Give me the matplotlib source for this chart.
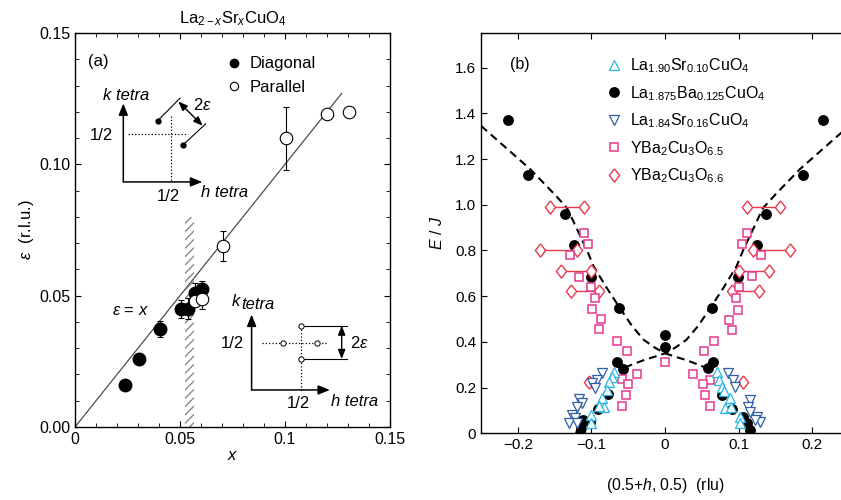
import matplotlib
matplotlib.use('Agg')
import matplotlib.pyplot as plt
from matplotlib.patches import Rectangle
from matplotlib.lines import Line2D

plt.rcParams['font.family'] = ['Liberation Sans', 'DejaVu Sans']
plt.rcParams['mathtext.fontset'] = 'custom'
plt.rcParams['mathtext.rm'] = 'Liberation Sans'
plt.rcParams['mathtext.it'] = 'Liberation Sans:italic'
plt.rcParams['hatch.linewidth'] = 0.9

# ---- panel (a): incommensurability vs doping ----
diag_x = [0.024, 0.0305, 0.0405, 0.0505, 0.054, 0.057, 0.0605]
diag_y = [0.016, 0.0257, 0.0373, 0.045, 0.045, 0.051, 0.0527]
diag_err = [0, 0, 0.003, 0.0035, 0.004, 0.004, 0.003]

par_x = [0.057, 0.0605, 0.0705, 0.1005, 0.12, 0.1305]
par_y = [0.048, 0.0488, 0.069, 0.11, 0.1192, 0.12]
par_err = [0, 0.004, 0.0058, 0.012, 0, 0]

line_x = [0, 0.127]

# ---- panel (b): dispersion ----
lbco_x = [-0.213, -0.186, -0.136, -0.124, -0.100, -0.062, -0.0655, -0.0574, -0.0775,
          -0.0915, -0.1017, -0.111, -0.114, -0.115, 0, 0,
          0.0647, 0.0588, 0.0768, 0.0904, 0.1062, 0.1116, 0.1153,
          0.0633, 0.0994, 0.1252, 0.137, 0.187, 0.2147]
lbco_y = [1.37, 1.129, 0.959, 0.826, 0.684, 0.549, 0.31, 0.283, 0.171,
          0.105, 0.05, 0.058, 0.025, 0.003, 0.431, 0.376,
          0.31, 0.285, 0.168, 0.105, 0.07, 0.044, 0.015,
          0.549, 0.684, 0.826, 0.96, 1.129, 1.37]

lsco10_x = [-0.069, -0.072, -0.076, -0.079, -0.086, -0.083, -0.090, -0.101, -0.101,
            0.070, 0.0737, 0.0768, 0.080, 0.088, 0.081, 0.090, 0.1017, 0.1017]
lsco10_y = [0.27, 0.245, 0.226, 0.19, 0.155, 0.117, 0.12, 0.08, 0.044,
            0.27, 0.234, 0.204, 0.185, 0.153, 0.11, 0.117, 0.073, 0.044]

lsco16_x = [-0.086, -0.0926, -0.0994, -0.0949, -0.1175, -0.113, -0.120, -0.1265, -0.123,
            -0.131, -0.120, 0.0859, 0.0926, 0.095, 0.1153, 0.113, 0.1243, 0.1288,
            0.122, 0.1153]
lsco16_y = [0.263, 0.234, 0.219, 0.197, 0.151, 0.131, 0.117, 0.078, 0.066,
            0.047, 0.044, 0.263, 0.234, 0.204, 0.146, 0.117, 0.073, 0.051,
            0.058, 0.095]

ybco65_x = [-0.1108, -0.1049, -0.1298, -0.1171, -0.1012, -0.0954, -0.0987, -0.0864,
            -0.0891, -0.0655, -0.052, -0.0384, -0.0587, -0.0498, -0.0529, -0.0587,
            0.0, 0.0664, 0.0529, 0.0384, 0.061, 0.0511, 0.0542, 0.061, 0.0904,
            0.0872, 0.0994, 0.0963, 0.1008, 0.1175, 0.1302, 0.1048, 0.1116]
ybco65_y = [0.877, 0.829, 0.781, 0.685, 0.638, 0.593, 0.542, 0.498,
            0.455, 0.405, 0.358, 0.26, 0.236, 0.216, 0.168, 0.121,
            0.314, 0.405, 0.358, 0.26, 0.234, 0.216, 0.168, 0.121, 0.45,
            0.497, 0.54, 0.592, 0.64, 0.687, 0.782, 0.829, 0.877]

# YBCO 6.6: pairs joined by a bar, both branches
ybco66_y = [0.992, 0.803, 0.709, 0.623, 0.992, 0.803, 0.709, 0.623]
ybco66_lo = [-0.156, -0.1695, -0.1414, -0.1275, 0.1108, 0.1198, 0.1003, 0.0904]
ybco66_hi = [-0.1108, -0.1197, -0.1003, -0.0893, 0.156, 0.1704, 0.1415, 0.1275]
ybco66_single_x = [-0.104, 0.1053]
ybco66_single_y = [0.226, 0.226]

# dashed guide curve, lower-right branch; the other is its mirror
curve_x = [-0.25, -0.22, -0.183, -0.15, -0.133, -0.106, -0.097, -0.08, -0.062,
           -0.045, -0.029, -0.014, 0, 0.015, 0.029, 0.043, 0.057]
curve_y = [1.345, 1.26, 1.155, 1.045, 0.985, 0.80, 0.73, 0.64, 0.551,
           0.47, 0.409, 0.375, 0.35, 0.334, 0.32, 0.303, 0.285]

c_up = '#29b5e8'
c_down = '#2f5ea8'
c_sq = '#e4388f'
c_dia = '#e8384c'
dia = [(0, 1), (0.78, 0), (0, -1), (-0.78, 0), (0, 1)]

fig = plt.figure(figsize=(8.41, 5.0), dpi=100)
ax1 = fig.add_axes([0.0892, 0.146, 0.3745, 0.788])
ax2 = fig.add_axes([0.572, 0.1334, 0.4376, 0.8])

# ---------------- (a) ----------------
ax1.plot(line_x, line_x, color='0.3', lw=0.9, zorder=1)
ax1.add_patch(Rectangle((0.0525, 0), 0.004, 0.08, fill=False, hatch='////',
                        edgecolor='0.5', lw=0, zorder=1))
ax1.errorbar(diag_x, diag_y, yerr=diag_err, fmt='o', color='black', ms=9,
             capsize=2.5, elinewidth=0.8, capthick=0.8, zorder=3)
ax1.errorbar(par_x, par_y, yerr=par_err, fmt='o', mfc='white', mec='black',
             ecolor='black', ms=9, mew=0.8, capsize=2.5, elinewidth=0.8,
             capthick=0.8, zorder=3)

ax1.set_xlim(0, 0.15)
ax1.set_ylim(0, 0.15)
ax1.set_xticks([0, 0.05, 0.1, 0.15])
ax1.set_xticklabels(['0', '0.05', '0.1', '0.15'])
ax1.set_yticks([0, 0.05, 0.10, 0.15])
ax1.set_yticklabels(['0.00', '0.05', '0.10', '0.15'])
ax1.set_xticks([i * 0.01 for i in range(16)], minor=True)
ax1.set_yticks([i * 0.01 for i in range(16)], minor=True)
ax1.tick_params(which='both', direction='in', top=True, right=True, labelsize=11.5)
ax1.tick_params(which='major', length=4)
ax1.tick_params(which='minor', length=3)
ax1.set_xlabel('$x$', fontsize=12, labelpad=1)
ax1.set_ylabel(r'$\varepsilon$  (r.l.u.)', fontsize=12, labelpad=2)
ax1.set_title(r'La$_{2-x}$Sr$_x$CuO$_4$', fontsize=12, pad=7)

ax1.text(0.0062, 0.139, '(a)', fontsize=12, va='center')
ax1.text(0.0262, 0.0443, r'$\varepsilon$ = $x$', fontsize=12, ha='center', va='center')

hd = [Line2D([], [], ls='none', marker='o', color='black', ms=6),
      Line2D([], [], ls='none', marker='o', mfc='white', mec='black', ms=6, mew=0.8)]
ax1.legend(hd, ['Diagonal', 'Parallel'], loc='upper left', bbox_to_anchor=(0.44, 0.97),
           frameon=False, fontsize=12, handlelength=1.0, handletextpad=0.45,
           labelspacing=0.5, borderpad=0.2)

arrow = dict(arrowstyle='-|>,head_length=0.7,head_width=0.28', color='black',
             lw=1.1, shrinkA=0, shrinkB=0)
darrow = dict(arrowstyle='<|-|>,head_length=0.55,head_width=0.22', color='black',
              lw=1.0, shrinkA=0, shrinkB=0)

# upper sketch: diagonal peaks
ox, oy = 0.0230, 0.0933
ax1.annotate('', xy=(ox, 0.1232), xytext=(ox, oy), arrowprops=arrow)
ax1.annotate('', xy=(0.0606, oy), xytext=(ox, oy), arrowprops=arrow)
ax1.plot([0.0252, 0.0538], [0.1115, 0.1115], ls=':', color='black', lw=0.9)
ax1.plot([0.0456, 0.0456], [0.1185, oy], ls=':', color='black', lw=0.9)
ax1.plot([0.0394, 0.0500], [0.1166, 0.1252], color='black', lw=0.8)
ax1.plot([0.0516, 0.0622], [0.1075, 0.1154], color='black', lw=0.8)
ax1.plot([0.0394, 0.0516], [0.1166, 0.1075], ls='none', marker='o', color='black', ms=3.5)
ax1.annotate('', xy=(0.0608, 0.1147), xytext=(0.0492, 0.1239), arrowprops=darrow)
ax1.text(0.0605, 0.1224, r'2$\varepsilon$', fontsize=12, ha='center', va='center')
ax1.text(0.0243, 0.1262, 'k tetra', fontsize=12, style='italic', ha='center', va='center')
ax1.text(0.0714, 0.0893, 'h tetra', fontsize=12, style='italic', ha='center', va='center')
ax1.text(0.0444, 0.0878, '1/2', fontsize=12, ha='center', va='center')
ax1.text(0.0127, 0.1109, '1/2', fontsize=12, ha='center', va='center')

# lower sketch: parallel peaks
ox, oy = 0.0841, 0.0141
ax1.annotate('', xy=(ox, 0.0428), xytext=(ox, oy), arrowprops=arrow)
ax1.annotate('', xy=(0.1214, oy), xytext=(ox, oy), arrowprops=arrow)
ax1.plot([0.0889, 0.1198], [0.032, 0.032], ls=':', color='black', lw=0.9)
ax1.plot([0.1074, 0.1074], [0.0386, oy], ls=':', color='black', lw=0.9)
ax1.plot([0.1074, 0.1294], [0.0386, 0.0386], color='black', lw=0.8)
ax1.plot([0.1074, 0.1294], [0.0259, 0.0259], color='black', lw=0.8)
ax1.plot([0.0989, 0.1151, 0.1074, 0.1074], [0.032, 0.032, 0.0386, 0.0259], ls='none',
         marker='o', mfc='white', mec='black', ms=3.8, mew=0.7)
ax1.annotate('', xy=(0.127, 0.0259), xytext=(0.127, 0.0386), arrowprops=darrow)
ax1.text(0.1352, 0.032, r'2$\varepsilon$', fontsize=12, ha='center', va='center')
ax1.text(0.0746, 0.0478, 'k', fontsize=12, style='italic', ha='left', va='center')
ax1.text(0.0793, 0.0468, 'tetra', fontsize=12, style='italic', ha='left', va='center')
ax1.text(0.1333, 0.0097, 'h tetra', fontsize=12, style='italic', ha='center', va='center')
ax1.text(0.1063, 0.009, '1/2', fontsize=12, ha='center', va='center')
ax1.text(0.0751, 0.0317, '1/2', fontsize=12, ha='center', va='center')

for s in ax1.spines.values():
    s.set_linewidth(1.0)

# ---------------- (b) ----------------
ax2.plot(curve_x, curve_y, color='black', lw=1.5, dashes=(3.8, 2.4), zorder=2)
ax2.plot([-v for v in curve_x], curve_y, color='black', lw=1.5, dashes=(3.8, 2.4), zorder=2)

ax2.plot(lbco_x, lbco_y, ls='none', marker='o', color='black', ms=6.8, zorder=3)
for lo, hi, y in zip(ybco66_lo, ybco66_hi, ybco66_y):
    ax2.plot([lo, hi], [y, y], color=c_dia, lw=1.0, marker=dia, ms=9.5,
             mfc='white', mec=c_dia, mew=1.0, zorder=4)
ax2.plot(ybco66_single_x, ybco66_single_y, ls='none', marker=dia, ms=9.5,
         mfc='white', mec=c_dia, mew=1.0, zorder=4)
ax2.plot(ybco65_x, ybco65_y, ls='none', marker='s', ms=5.8, mfc='white', mec=c_sq,
         mew=1.1, zorder=4)
ax2.plot(lsco16_x, lsco16_y, ls='none', marker='v', ms=7.5, mfc='white', mec=c_down,
         mew=0.9, zorder=4)
ax2.plot(lsco10_x, lsco10_y, ls='none', marker='^', ms=7.5, mfc='white', mec=c_up,
         mew=0.9, zorder=5)

ax2.set_xlim(-0.25, 0.25)
ax2.set_ylim(0, 1.75)
ax2.set_xticks([-0.2, -0.1, 0, 0.1, 0.2])
ax2.set_xticklabels(['\u22120.2', '\u22120.1', '0', '0.1', '0.2'])
ax2.set_yticks([0, 0.2, 0.4, 0.6, 0.8, 1.0, 1.2, 1.4, 1.6])
ax2.set_yticklabels(['0', '0.2', '0.4', '0.6', '0.8', '1.0', '1.2', '1.4', '1.6'])
ax2.tick_params(direction='in', top=True, length=4.3, labelsize=11)
ax2.set_xlabel('(0.5+$h$, 0.5)  (rlu)', fontsize=11.3, labelpad=17)
ax2.set_ylabel('$E$ / $J$', fontsize=11.5, labelpad=7)
ax2.text(-0.21, 1.615, '(b)', fontsize=11.5, va='center')
for s in ax2.spines.values():
    s.set_linewidth(1.0)

hb = [Line2D([], [], ls='none', marker='^', ms=7.5, mfc='white', mec=c_up, mew=0.9),
      Line2D([], [], ls='none', marker='o', ms=6.8, color='black'),
      Line2D([], [], ls='none', marker='v', ms=7.5, mfc='white', mec=c_down, mew=0.9),
      Line2D([], [], ls='none', marker='s', ms=5.8, mfc='white', mec=c_sq, mew=1.1),
      Line2D([], [], ls='none', marker=dia, ms=9.5, mfc='white', mec=c_dia, mew=1.0)]
lb = ['La$_{1.90}$Sr$_{0.10}$CuO$_4$', 'La$_{1.875}$Ba$_{0.125}$CuO$_4$',
      'La$_{1.84}$Sr$_{0.16}$CuO$_4$', 'YBa$_2$Cu$_3$O$_{6.5}$', 'YBa$_2$Cu$_3$O$_{6.6}$']
ax2.legend(hb, lb, loc='upper left', bbox_to_anchor=(0.31, 0.97), frameon=False,
           fontsize=11.5, handlelength=1.0, handletextpad=0.5, labelspacing=0.55,
           borderpad=0.2)

fig.savefig('out.png', dpi=100)
